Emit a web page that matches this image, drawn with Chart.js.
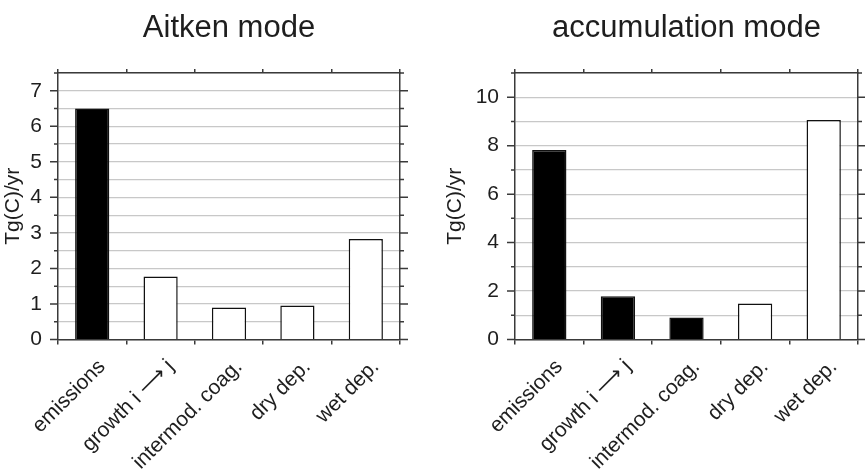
<!DOCTYPE html>
<html>
<head>
<meta charset="utf-8">
<script src="https://cdn.jsdelivr.net/npm/chart.js@4.4.1/dist/chart.umd.min.js"></script>
<style>
  html, body { margin: 0; padding: 0; background: #fff; }
  #wrap { position: relative; width: 865px; height: 474px; overflow: hidden; }
  .panel { position: absolute; top: 0; }
</style>
</head>
<body>
<div id="wrap">
  <canvas id="aitken" class="panel" width="430" height="474" style="left:0"></canvas>
  <canvas id="accum" class="panel" width="435" height="474" style="left:430px"></canvas>
</div>
<script>
// datos (Tg(C)/yr)
const categories = ['emissions', 'growth i \u27F6 j', 'intermod. coag.', 'dry dep.', 'wet dep.'];
const aitkenValues = [6.5, 1.77, 0.9, 0.96, 2.83];
const accumValues = [7.82, 1.79, 0.91, 1.49, 9.06];
const aitkenTicks = [0, 1, 2, 3, 4, 5, 6, 7];
const accumTicks = [0, 2, 4, 6, 8, 10];

const FONT = '"Liberation Sans", Arial, Helvetica, sans-serif';
const AXIS = '#3a3a3a';
const TEXT = '#1e1e1e';

// título centrado sobre el área del gráfico y marcas de los ejes verticales
const framePlugin = {
  id: 'frame',
  afterDraw(chart, args, opts) {
    const ctx = chart.ctx;
    const area = chart.chartArea;
    const ys = chart.scales.y;
    ctx.save();
    ctx.strokeStyle = AXIS;
    ctx.lineWidth = 1.5;
    ys.ticks.forEach(t => {
      const py = ys.getPixelForValue(t.value);
      const len = opts.major.includes(t.value) ? 8 : 4;
      ctx.beginPath();
      ctx.moveTo(area.left, py);
      ctx.lineTo(area.left - len, py);
      ctx.moveTo(area.right, py);
      ctx.lineTo(area.right + len, py);
      ctx.stroke();
    });
    ctx.fillStyle = TEXT;
    ctx.font = '31px ' + FONT;
    ctx.textAlign = 'center';
    ctx.textBaseline = 'alphabetic';
    ctx.fillText(opts.title, (area.left + area.right) / 2, 37);
    ctx.restore();
  }
};

function makePanel(id, title, values, fills, max, step, major, leftW, rightW, titlePad) {
  return new Chart(document.getElementById(id), {
    type: 'bar',
    data: {
      labels: categories,
      datasets: [{
        data: values,
        backgroundColor: fills,
        borderColor: '#111',
        borderWidth: 1.5,
        barPercentage: 0.5,
        categoryPercentage: 1
      }]
    },
    options: {
      responsive: false,
      animation: false,
      layout: { padding: 0 },
      plugins: {
        legend: { display: false },
        tooltip: { enabled: false },
        frame: { title: title, major: major }
      },
      scales: {
        x: {
          position: 'bottom',
          offset: true,
          grid: { drawOnChartArea: false, offset: true, tickLength: 5, color: AXIS, lineWidth: 1.5 },
          border: { color: AXIS, width: 1.5 },
          ticks: {
            minRotation: 45, maxRotation: 45, autoSkip: false,
            padding: 10, labelOffset: 10,
            color: TEXT, font: { family: FONT, size: 21 }
          },
          afterFit: s => { s.height = 134.5; }
        },
        xTop: {
          type: 'category',
          position: 'top',
          offset: true,
          grid: { drawOnChartArea: false, offset: true, tickLength: 4, color: AXIS, lineWidth: 1.5 },
          border: { color: AXIS, width: 1.5 },
          ticks: { display: false },
          afterFit: s => { s.height = 73; }
        },
        y: {
          min: 0,
          max: max,
          grid: { color: '#c8c8c8', lineWidth: 1.2, drawTicks: false },
          border: { color: AXIS, width: 1.5 },
          ticks: {
            stepSize: step,
            autoSkip: false,
            padding: 16,
            color: TEXT,
            font: { family: FONT, size: 21 },
            callback: v => (major.includes(v) ? v : '')
          },
          title: { display: true, text: 'Tg(C)/yr', color: TEXT, font: { family: FONT, size: 21 }, padding: { top: titlePad, bottom: 0 } },
          afterFit: s => { s.width = leftW; }
        },
        y2: {
          position: 'right',
          min: 0,
          max: max,
          grid: { drawOnChartArea: false, drawTicks: false },
          border: { color: AXIS, width: 1.5 },
          ticks: { display: false, stepSize: step },
          afterFit: s => { s.width = rightW; }
        }
      }
    },
    plugins: [framePlugin]
  });
}

document.addEventListener('DOMContentLoaded', function () {
  makePanel('aitken', 'Aitken mode', aitkenValues,
    ['#000', '#fff', '#fff', '#fff', '#fff'], 7.5, 0.5, aitkenTicks, 58, 30, 1);
  makePanel('accum', 'accumulation mode', accumValues,
    ['#000', '#000', '#000', '#fff', '#fff'], 11, 1, accumTicks, 85, 7, 13);
});
</script>
</body>
</html>
